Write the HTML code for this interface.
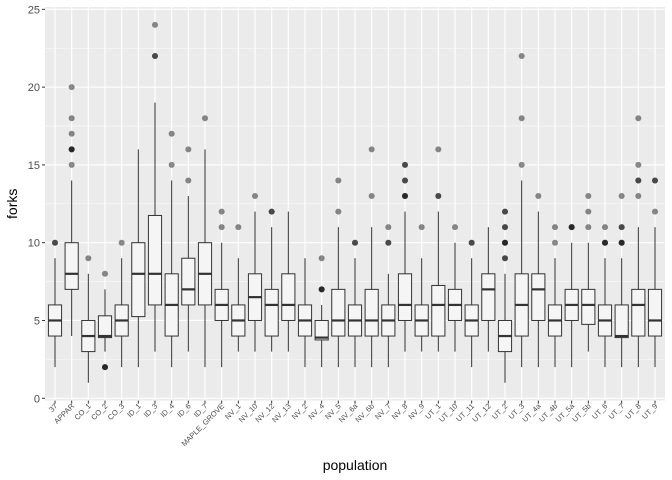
<!DOCTYPE html>
<html><head><meta charset="utf-8"><style>
body{margin:0;background:#fff;}
svg{display:block;font-family:"Liberation Sans",sans-serif;}
</style></head><body>
<svg id="chart" width="672" height="480"></svg>
<script>
const categories=["37","APPAR","CO_1","CO_2","CO_3","ID_1","ID_3","ID_4","ID_6","ID_7","MAPLE_GROVE","NV_1","NV_10","NV_12","NV_13","NV_2","NV_4","NV_5","NV_6a","NV_6b","NV_7","NV_8","NV_9","UT_1","UT_10","UT_11","UT_12","UT_2","UT_3","UT_4a","UT_4b","UT_5a","UT_5b","UT_6","UT_7","UT_8","UT_9"];
const lowWhisker=[2,4,1,3,2,2,3,2,3,2,2,3,3,3,3,2,2,2,2,2,2,3,3,3,3,2,3,1,2,2,2,2,3,2,2,2,2];
const q1Values=[4,7,3,3.9,4,5.25,6,4,6,6,5,4,5,4,5,4,3.75,4,4,4,4,5,4,4,5,4,5,3,4,5,4,5,4.75,4,3.9,4,4];
const medians=[5,8,4,4,5,8,8,6,7,8,6,5,6.5,6,6,5,3.9,5,5,5,5,6,5,6,6,5,7,4,6,7,5,6,6,5,4,6,5];
const q3Values=[6,10,5,5.3,6,10,11.75,8,9,10,7,6,8,7,8,6,5,7,6,7,6,8,6,7.25,7,6,8,5,8,8,6,7,7,6,6,7,7];
const highWhisker=[9,14,8,7,9,16,19,14,13,16,10,9,12,11,12,9,6,11,9,11,8,12,9,12,10,9,11,8,14,12,9,10,10,9,9,11,11];
const outliers=[[10,10],[20,18,17,16,16,16,15],[9],[8,2,2,2],[10],[],[24,22,22],[17,15],[16,14],[18],[12,11],[11],[13],[12,12],[],[],[9,7,7,7],[14,12],[10,10],[16,13],[11,10,10],[15,15,14,14,13,13,13],[11],[16,13,13],[11],[10,10],[],[12,12,11,11,10,10,10,9,9],[22,18,15],[13],[11,10],[11,11,11],[13,12,11],[11,10,10,10],[13,11,11,10,10,10],[18,15,14,14,13],[14,14,12]];
const yTicks=[0,5,10,15,20,25];

const NS="http://www.w3.org/2000/svg";
const svg=document.getElementById('chart');
const PL=45,PR=665,PT=7,PB=400.6;
const yMin=-0.15,yMax=25.15;
function y(v){return PB-(v-yMin)/(yMax-yMin)*(PB-PT);}
const step=(PR-PL)/(categories.length-1+1.2);
function x(i){return PL+(i+0.6)*step;}
function el(t,a,p){const e=document.createElementNS(NS,t);for(const k in a)e.setAttribute(k,a[k]);(p||svg).appendChild(e);return e;}

const bg=el('rect',{x:PL,y:PT,width:PR-PL,height:PB-PT,fill:'#ebebeb'});


for(let i=0;i<yTicks.length-1;i++){const m=(yTicks[i]+yTicks[i+1])/2;el('line',{x1:PL,x2:PR,y1:y(m),y2:y(m),stroke:'#fff','stroke-width':0.5});}
yTicks.forEach(t=>{
  el('line',{x1:PL,x2:PR,y1:y(t),y2:y(t),stroke:'#fff','stroke-width':1.1});
  el('line',{x1:PL-3,x2:PL,y1:y(t),y2:y(t),stroke:'#333','stroke-width':1});
  const lb=el('text',{x:PL-5,y:y(t)+4,'text-anchor':'end','font-size':11,fill:'#4d4d4d'});lb.textContent=t;
  
  
});
categories.forEach((c,i)=>{
  el('line',{x1:x(i),x2:x(i),y1:PT,y2:PB,stroke:'#fff','stroke-width':1.1});
  el('line',{x1:x(i),x2:x(i),y1:PB,y2:PB+3,stroke:'#333','stroke-width':1});
  const lb=el('text',{x:x(i)+3,y:PB+6,'text-anchor':'end','font-size':7.5,fill:'#4d4d4d',transform:`rotate(-45 ${x(i)+3} ${PB+6})`});
  lb.textContent=c;
  
  
});
const bw=step*0.79;
categories.forEach((c,i)=>{
  const g=el('g',{});
  
  
  const cx=x(i);
  el('line',{x1:cx,x2:cx,y1:y(q3Values[i]),y2:y(highWhisker[i]),stroke:'#333','stroke-width':1},g);
  el('line',{x1:cx,x2:cx,y1:y(q1Values[i]),y2:y(lowWhisker[i]),stroke:'#333','stroke-width':1},g);
  el('rect',{x:cx-bw/2,y:y(q3Values[i]),width:bw,height:y(q1Values[i])-y(q3Values[i]),fill:'#f5f5f5',stroke:'#333','stroke-width':1},g);
  el('line',{x1:cx-bw/2,x2:cx+bw/2,y1:y(medians[i]),y2:y(medians[i]),stroke:'#333','stroke-width':2.2},g);
  outliers[i].forEach(v=>{
    const p=el('circle',{cx:cx,cy:y(v),r:3,fill:'#000','fill-opacity':0.45},g);
    
    
  });
});
const yt=el('text',{x:17,y:(PT+PB)/2,'text-anchor':'middle','font-size':14,fill:'#000',transform:`rotate(-90 17 ${(PT+PB)/2})`});
yt.textContent='forks';


const xt=el('text',{x:(PL+PR)/2,y:470,'text-anchor':'middle','font-size':14,fill:'#000'});
xt.textContent='population';


</script>
</body></html>
